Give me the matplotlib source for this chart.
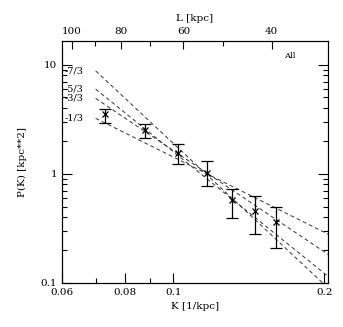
import numpy as np
import matplotlib
matplotlib.use("Agg")
import matplotlib.pyplot as plt
from matplotlib.ticker import NullFormatter, FixedLocator

plt.rcParams['font.family'] = ['DejaVu Serif']

# measured power spectrum points
k = [0.0729, 0.0877, 0.1022, 0.1167, 0.1309, 0.1457, 0.1600]
pk = [3.50, 2.53, 1.56, 1.02, 0.57, 0.46, 0.36]
pk_hi = [3.95, 2.87, 1.86, 1.30, 0.73, 0.63, 0.50]
pk_lo = [2.94, 2.12, 1.235, 0.78, 0.39, 0.28, 0.21]

# reference power laws, values at the two ends of each line
line_labels = ['-7/3', '-5/3', '-3/3', '-1/3']
line_k = [0.07, 0.21]
line_p_start = [8.76, 5.96, 4.90, 3.22]
line_p_end = [0.0785, 0.102, 0.1655, 0.26]

bottom_ticks = [0.06, 0.08, 0.1, 0.2]
bottom_minor = [0.07, 0.09]
top_L = [100, 80, 60, 40]
top_L_minor = [90, 70, 50]

fig = plt.figure(figsize=(3.43, 3.27), dpi=100)
ax = fig.add_axes([0.181, 0.135, 0.774, 0.74])

yerr = [np.array(pk) - np.array(pk_lo), np.array(pk_hi) - np.array(pk)]
ax.errorbar(k, pk, yerr=yerr, fmt='x', color='black', ms=4.5, mew=0.9,
            elinewidth=0.9, capsize=4, capthick=0.9, zorder=3)

for lab, p0, p1 in zip(line_labels, line_p_start, line_p_end):
    ax.plot(line_k, [p0, p1], color='#333333', lw=0.7, ls=(0, (4, 3)))
    ax.text(0.0606, p0, lab, fontsize=7, va='center', ha='left')

ax.set_xscale('log')
ax.set_yscale('log')
ax.set_xlim(0.06, 0.203)
ax.set_ylim(0.1, 16.5)

ax.xaxis.set_major_locator(FixedLocator(bottom_ticks))
ax.xaxis.set_minor_locator(FixedLocator(bottom_minor))
ax.set_xticklabels([str(t) for t in bottom_ticks])
ax.xaxis.set_minor_formatter(NullFormatter())
ax.set_yticks([0.1, 1, 10])
ax.set_yticklabels(['0.1', '1', '10'])
ax.yaxis.set_minor_formatter(NullFormatter())

ax.tick_params(which='both', direction='in', top=False, right=True,
               labelsize=7.5, width=0.8)
ax.tick_params(which='major', length=7)
ax.tick_params(which='minor', length=3.5)

ax.set_xlabel('K [1/kpc]', fontsize=7.5, labelpad=4)
ax.set_ylabel('P(K) [kpc**2]', fontsize=7.5, labelpad=10)

# top axis in wavelength L = 2 pi / K
top = ax.twiny()
top.set_xscale('log')
top.set_xlim(ax.get_xlim())
top.xaxis.set_major_locator(FixedLocator([2 * np.pi / L for L in top_L]))
top.xaxis.set_minor_locator(FixedLocator([2 * np.pi / L for L in top_L_minor]))
top.set_xticklabels([str(L) for L in top_L])
top.xaxis.set_minor_formatter(NullFormatter())
top.tick_params(which='both', direction='in', labelsize=7.5, width=0.8)
top.tick_params(which='major', length=6)
top.tick_params(which='minor', length=3.5)
top.set_xlabel('L [kpc]', fontsize=7.5, labelpad=4)

ax.text(0.835, 0.93, 'All', transform=ax.transAxes, fontsize=6)

for a in (ax, top):
    for s in a.spines.values():
        s.set_linewidth(0.8)

fig.savefig('out.png', dpi=100)
